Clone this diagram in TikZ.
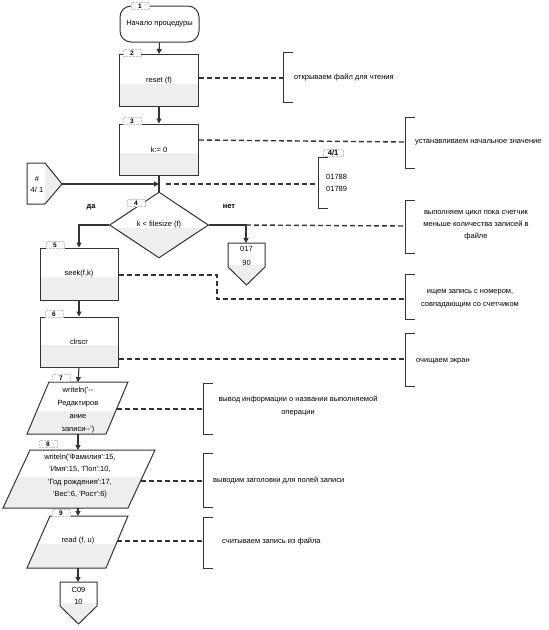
\documentclass[tikz,border=0pt]{standalone}
\usepackage{fontspec}
\setmainfont{Liberation Sans}
\usetikzlibrary{shapes.geometric,arrows.meta,calc}
\definecolor{ln}{HTML}{333333}
\definecolor{shd}{HTML}{EEEEEE}
\newcommand\apq{\textquotesingle}
\begin{document}
\begin{tikzpicture}[x=1pt,y=-1pt,
 font=\fontsize{7.5}{9}\selectfont,
 shapeline/.style={draw=ln, line width=1pt},
 flow/.style={draw=ln, line width=1.1pt, -{Triangle[length=5pt,width=5pt]}},
 plainflow/.style={draw=ln, line width=1.1pt},
 annline/.style={draw=ln, line width=1.4pt, dash pattern=on 5pt off 3pt},
 brk/.style={draw=ln, line width=0.9pt},
 numlab/.style={draw=gray!45, densely dotted, fill=white, font=\fontsize{6.5}{7}\selectfont\bfseries, inner sep=0.8pt, minimum width=18pt, minimum height=7pt},
 txt/.style={inner sep=0pt, align=center},
 proc/.style={rectangle, draw=ln, line width=1pt, minimum height=52pt, minimum width=79pt, inner sep=0pt,
   path picture={\fill[shd] ($(path picture bounding box.west)+(0,3)$) rectangle (path picture bounding box.south east);}},
 dec/.style={diamond, draw=ln, line width=1pt, minimum width=99pt, minimum height=66pt, aspect=1.5, inner sep=0pt,
   path picture={\fill[shd] ($(path picture bounding box.west)+(0,3)$) rectangle (path picture bounding box.south east);}},
 term/.style={rectangle, rounded corners=11pt, draw=ln, line width=1pt, minimum width=79pt, minimum height=36pt, inner sep=0pt},
]
\useasboundingbox (0,0) rectangle (549,630);

% ---------- 1 terminator
\node[term] (t1) at (159.5,24) {Начало процедуры};
\node[numlab] (n1) at (140,6) {1};

% ---------- 2 reset
\node[proc] (b2) at (159,80.5) {reset (f)};
\node[numlab] (n2) at (132,53) {2};

% ---------- 3 k:=0
\node[proc, minimum height=51pt] (b3) at (159,149.5) {k:= 0};
\node[numlab] (n3) at (132,121) {3};

% ---------- 4 decision
\node[dec] (d4) at (159,225) {k < filesize (f)};
\node[numlab] (n4) at (136,203) {4};
\node[txt, font=\fontsize{7.5}{9}\selectfont\bfseries] (yes) at (91,207) {да};
\node[txt, font=\fontsize{7.5}{9}\selectfont\bfseries] (no) at (229,207) {нет};

% junction coordinate
\coordinate (j) at (159,184);

% ---------- left off-page connector #/4/1
\begin{scope}
\clip (27,163) -- (45,163) -- (62,184) -- (45,204) -- (27,204) -- cycle;
\fill[shd] (45,160) rectangle (65,210);
\end{scope}
\draw[shapeline] (27,163) -- (45,163) -- (62,184) -- (45,204) -- (27,204) -- cycle;
\node[txt, align=center] (c41) at (37,184) {\#\\[2pt]4/ 1};
\coordinate (c41r) at (62,184);

% ---------- exit connector 017/90
\begin{scope}
\clip (228,243) -- (265,243) -- (265,267) -- (246.5,285) -- (228,267) -- cycle;
\fill[shd] (220,265) rectangle (270,290);
\end{scope}
\draw[shapeline] (228,243) -- (265,243) -- (265,267) -- (246.5,285) -- (228,267) -- cycle;
\node[txt] (c17) at (246.5,256) {017\\[5pt]90};
\coordinate (c17t) at (246,243);

% ---------- 5 seek
\node[proc, minimum width=78pt] (b5) at (79,274) {seek(f,k)};
\node[numlab] (n5) at (55,245) {5};

% ---------- 6 clrscr
\node[proc, minimum width=78pt, minimum height=50pt] (b6) at (79,342) {clrscr};
\node[numlab] (n6) at (54,314) {6};

% ---------- 7 parallelogram
\begin{scope}
\clip (49,382) -- (128,382) -- (106,434) -- (27,434) -- cycle;
\fill[shd] (20,411) rectangle (140,440);
\end{scope}
\draw[shapeline] (49,382) -- (128,382) -- (106,434) -- (27,434) -- cycle;
\node[txt, font=\fontsize{7.5}{13}\selectfont] (p7) at (78,410) {writeln(\apq-{}-\\Редактиров\\ание\\записи-{}-\apq)};
\coordinate (p7t) at (78,382);
\coordinate (p7b) at (78,434);
\coordinate (p7r) at (116.5,409);
\node[numlab] (n7) at (61,378) {7};

% ---------- 8 parallelogram
\begin{scope}
\clip (30,450) -- (155,450) -- (128,508) -- (3,508) -- cycle;
\fill[shd] (0,477) rectangle (160,512);
\end{scope}
\draw[shapeline] (30,450) -- (155,450) -- (128,508) -- (3,508) -- cycle;
\node[txt, font=\fontsize{7.5}{12.3}\selectfont] (p8) at (80,476) {writeln(\apq Фамилия\apq:15,\\\apq Имя\apq:15, \apq Пол\apq:10,\\\apq Год рождения\apq:17,\\\apq Вес\apq:6, \apq Рост\apq:6)};
\coordinate (p8t) at (78,450);
\coordinate (p8b) at (78,508);
\coordinate (p8r) at (140.5,481);
\node[numlab] (n8) at (48,444) {8};

% ---------- 9 parallelogram
\begin{scope}
\clip (50,516) -- (128,516) -- (106,568) -- (27,568) -- cycle;
\fill[shd] (20,544) rectangle (140,572);
\end{scope}
\draw[shapeline] (50,516) -- (128,516) -- (106,568) -- (27,568) -- cycle;
\node[txt] (p9) at (78,541) {read (f, u)};
\coordinate (p9t) at (78,516);
\coordinate (p9b) at (78,568);
\coordinate (p9r) at (117,541);
\node[numlab] (n9) at (61,513) {9};

% ---------- exit connector C09/10
\begin{scope}
\clip (60,582) -- (97,582) -- (97,606) -- (78.5,624) -- (60,606) -- cycle;
\fill[shd] (55,603) rectangle (100,628);
\end{scope}
\draw[shapeline] (60,582) -- (97,582) -- (97,606) -- (78.5,624) -- (60,606) -- cycle;
\node[txt] (c09) at (78.5,596) {C09\\[3pt]10};
\coordinate (c09t) at (78,582);

% ---------- flow connectors
\draw[flow] (t1.south) -- (b2.north);
\draw[flow] (b2.south) -- (b3.north);
\draw[plainflow] (b3.south) -- (d4.north);
\draw[flow] (c41r) -- (j);
\draw[flow] (d4.west) -| (b5.north);
\draw[flow] (d4.east) -| (c17t);
\draw[flow] (b5.south) -- (b6.north);
\draw[flow] (b6.south) -- (p7t);
\draw[flow] (p7b) -- (p8t);
\draw[flow] (p8b) -- (p9t);
\draw[flow] (p9b) -- (c09t);

% ---------- annotations
% A2
\draw[brk] (293,52) -- (283,52) -- (283,102) -- (293,102);
\coordinate (a2) at (283,78);
\node[txt, anchor=west] (ta2) at (294,77) {открываем файл для чтения};
\draw[annline] (b2.east |- a2) -- (a2);

% A3
\draw[brk] (415,117) -- (405,117) -- (405,168) -- (415,168);
\coordinate (a3) at (405,142);
\node[txt, anchor=west] (ta3) at (415,142) {устанавливаем начальное значение};
\draw[annline] (b3.east |- 0,140) -- (a3);

% A4/1
\draw[brk] (328,157) -- (318,157) -- (318,208) -- (328,208);
\coordinate (a41) at (318,184);
\node[numlab, font=\fontsize{7.5}{8}\selectfont\bfseries, minimum width=20pt, anchor=west] (ta41h) at (323,153) {4/1};
\node[txt, anchor=west] (ta41a) at (326,177) {01788};
\node[txt, anchor=west] (ta41b) at (326,189) {01789};
\draw[annline] ($(j)+(7,0)$) -- (a41);

% A4
\draw[brk] (415,200) -- (405,200) -- (405,253) -- (415,253);
\coordinate (a4) at (405,226);
\node[txt, font=\fontsize{7.5}{12}\selectfont] (ta4) at (476,225) {выполняем цикл пока счетчик\\меньше количества записей в\\файле};
\draw[annline] (c17t |- d4.east) -- (a4);

% A5
\draw[brk] (415,274) -- (405,274) -- (405,319) -- (415,319);
\coordinate (a5) at (405,299);
\node[txt, font=\fontsize{7.5}{13}\selectfont] (ta5) at (470,299) {ищем запись с номером,\\совпадающим со счетчиком};
\draw[annline] (b5.east |- 0,275) -- (217,275) -- (217,299) -- (a5);

% A6
\draw[brk] (415,333) -- (405,333) -- (405,386) -- (415,386);
\coordinate (a6) at (405,359);
\node[txt, anchor=west] (ta6) at (416,361) {очищаем экран};
\draw[annline] (b6.east |- a6) -- (a6);

% A7
\draw[brk] (213,383) -- (203,383) -- (203,434) -- (213,434);
\coordinate (a7) at (203,409);
\node[txt, font=\fontsize{7.5}{13}\selectfont] (ta7) at (298,406) {вывод информации о названии выполняемой\\операции};
\draw[annline] (p7r) -- (a7);

% A8
\draw[brk] (213,453) -- (203,453) -- (203,507) -- (213,507);
\coordinate (a8) at (203,481);
\node[txt, anchor=west] (ta8) at (213,480) {выводим заголовки для полей записи};
\draw[annline] (p8r) -- (a8);

% A9
\draw[brk] (213,517) -- (203,517) -- (203,568) -- (213,568);
\coordinate (a9) at (203,541);
\node[txt, anchor=west] (ta9) at (222,541) {считываем запись из файла};
\draw[annline] (p9r) -- (a9);
\end{tikzpicture}
\end{document}
